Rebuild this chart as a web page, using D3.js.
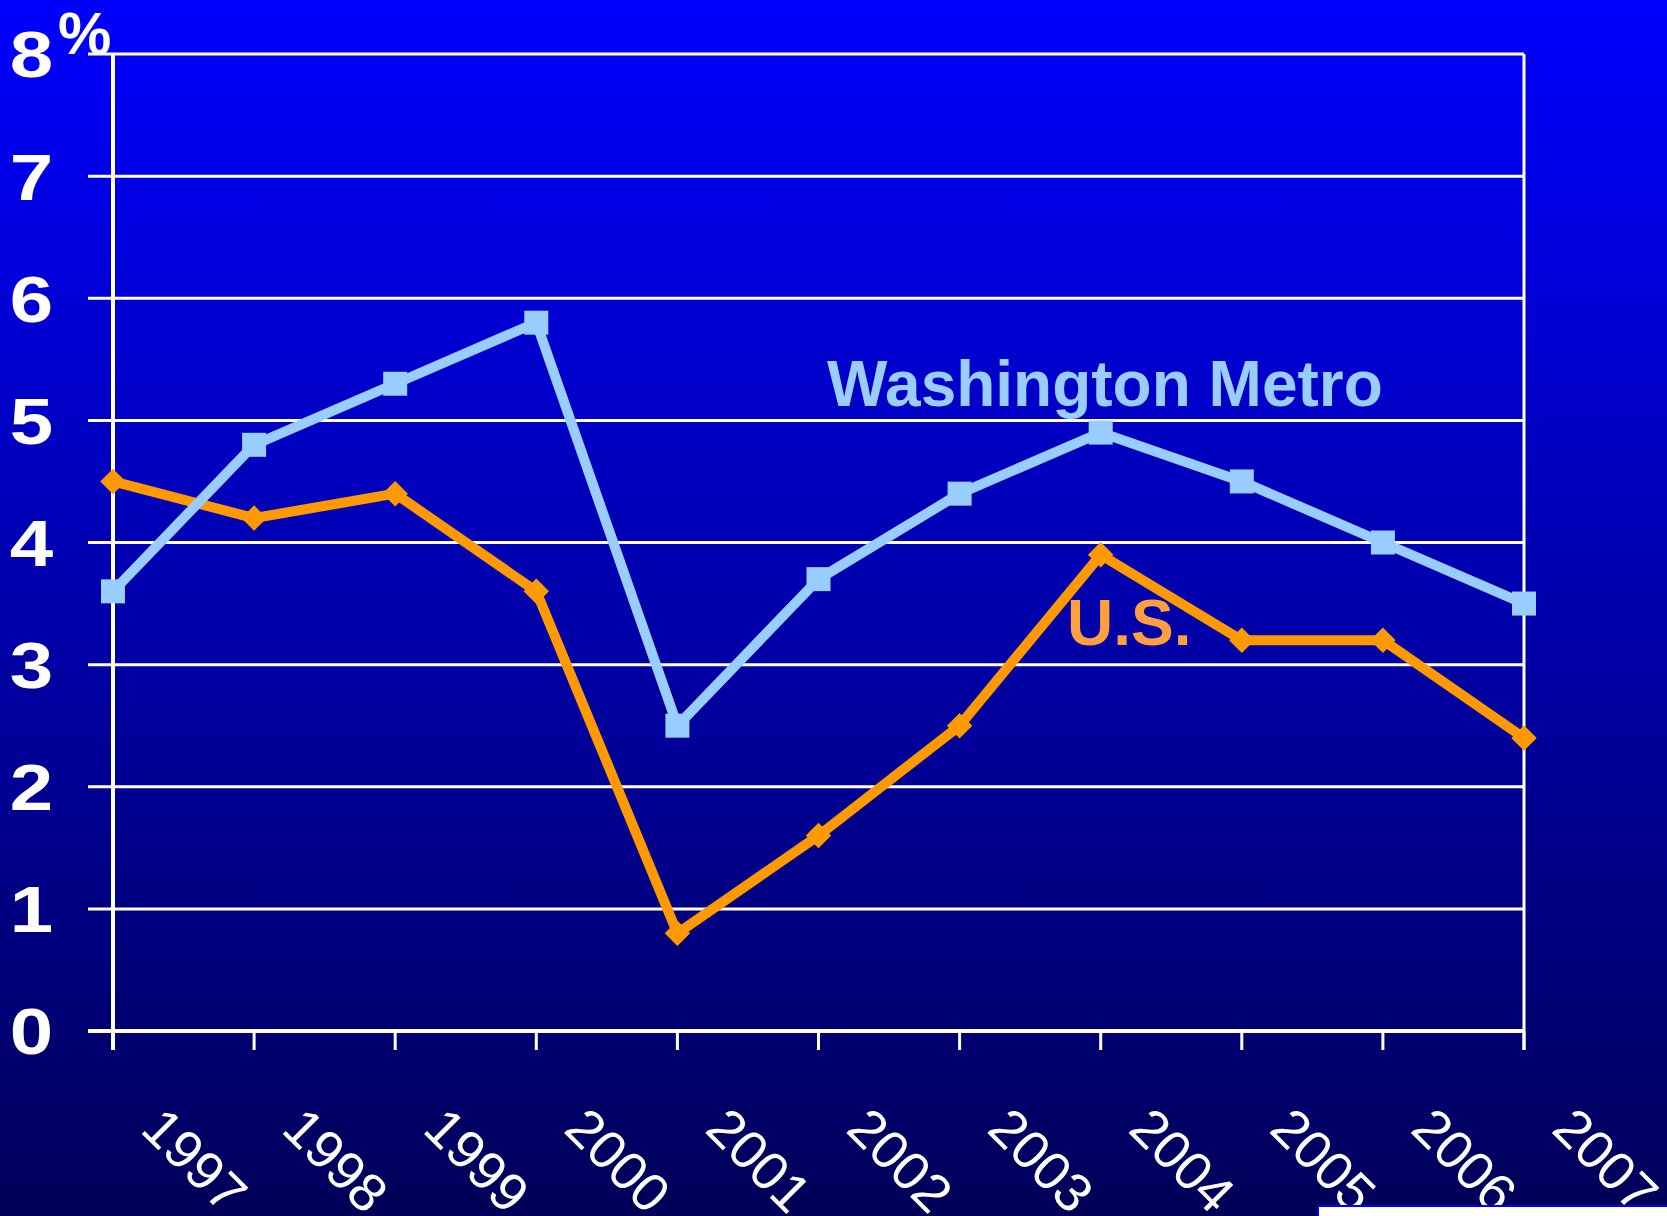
<!DOCTYPE html>
<html>
<head>
<meta charset="utf-8">
<script src="https://cdn.jsdelivr.net/npm/d3@7"></script>
<style>
  html, body { margin: 0; padding: 0; background: #000066; }
  svg { display: block; }
</style>
</head>
<body>
<div id="visual"></div>
<script>
// growth rates, percent
var years = ["1997", "1998", "1999", "2000", "2001", "2002", "2003", "2004", "2005", "2006", "2007"];
var washington = [3.6, 4.8, 5.3, 5.8, 2.5, 3.7, 4.4, 4.9, 4.5, 4.0, 3.5];
var usa = [4.5, 4.2, 4.4, 3.6, 0.8, 1.6, 2.5, 3.9, 3.2, 3.2, 2.4];
var yTicks = [0, 1, 2, 3, 4, 5, 6, 7, 8];

var width = 1667, height = 1216;
var margin = {top: 54, right: 143, bottom: 185, left: 113};

var svg = d3.select("#visual").append("svg")
    .attr("width", width)
    .attr("height", height);

var font = "'Liberation Sans', Arial, sans-serif";

/* background gradient */
var grad = svg.append("defs").append("linearGradient")
    .attr("id", "bg")
    .attr("x1", 0).attr("y1", 0).attr("x2", 0).attr("y2", 1);
grad.append("stop").attr("offset", "0%").attr("stop-color", "#0000ff");
grad.append("stop").attr("offset", "100%").attr("stop-color", "#000058");

svg.append("rect")
    .attr("width", width)
    .attr("height", height)
    .attr("fill", "url(#bg)");

var x = d3.scalePoint()
    .domain(years)
    .range([margin.left, width - margin.right])
    .padding(0);

var y = d3.scaleLinear()
    .domain([0, 8])
    .range([height - margin.bottom, margin.top]);

var x0 = margin.left, x1 = width - margin.right;

// gridlines (they stick out left as ticks)
svg.append("g").selectAll("line")
    .data(yTicks)
    .enter().append("line")
    .attr("x1", x0 - 25)
    .attr("x2", x1)
    .attr("y1", function (d) { return y(d); })
    .attr("y2", function (d) { return y(d); })
    .attr("stroke", "#fff")
    .attr("stroke-width", function (d) { return d === 0 ? 4 : 3; });

// left and right frame lines
svg.append("line")
    .attr("x1", x0).attr("x2", x0)
    .attr("y1", y(8)).attr("y2", y(0) + 19)
    .attr("stroke", "#fff").attr("stroke-width", 4);
svg.append("line")
    .attr("x1", x1).attr("x2", x1)
    .attr("y1", y(8)).attr("y2", y(0) + 19)
    .attr("stroke", "#fff").attr("stroke-width", 3);

// bottom ticks
svg.append("g").selectAll("line")
    .data(years)
    .enter().append("line")
    .attr("x1", function (d) { return x(d); })
    .attr("x2", function (d) { return x(d); })
    .attr("y1", y(0))
    .attr("y2", y(0) + 19)
    .attr("stroke", "#fff")
    .attr("stroke-width", 3);

// y tick labels (slightly wide, like the original)
svg.append("g").selectAll("text")
    .data(yTicks)
    .enter().append("text")
    .attr("transform", function (d) {
        return "translate(53," + y(d) + ") scale(1.2,1)";
    })
    .attr("dy", "0.36em")
    .attr("text-anchor", "end")
    .attr("font-family", font)
    .attr("font-weight", "bold")
    .attr("font-size", 65)
    .attr("fill", "#fff")
    .text(function (d) { return d; });

svg.append("text")
    .attr("x", 58)
    .attr("y", 54)
    .attr("font-family", font)
    .attr("font-weight", "bold")
    .attr("font-size", 60)
    .attr("fill", "#fff")
    .text("%");

// x labels, rotated
svg.append("g").selectAll("text")
    .data(years)
    .enter().append("text")
    .attr("transform", function (d) {
        return "translate(" + (x(d) + 26) + "," + 1131 + ") rotate(45)";
    })
    .attr("font-family", font)
    .attr("font-size", 54)
    .attr("fill", "#fff")
    .text(function (d) { return d; });

var line = d3.line()
    .x(function (d, i) { return x(years[i]); })
    .y(function (d) { return y(d); });

/* U.S. series */
svg.append("path")
    .datum(usa)
    .attr("d", line)
    .attr("fill", "none")
    .attr("stroke", "#ff9900")
    .attr("stroke-width", 10)
    .attr("stroke-linejoin", "round");

svg.append("g").selectAll("rect")
    .data(usa)
    .enter().append("rect")
    .attr("x", -9).attr("y", -9)
    .attr("width", 18).attr("height", 18)
    .attr("transform", function (d, i) {
        return "translate(" + x(years[i]) + "," + y(d) + ") rotate(45)";
    })
    .attr("fill", "#ff9900");

/* Washington series */
svg.append("path")
    .datum(washington)
    .attr("d", line)
    .attr("fill", "none")
    .attr("stroke", "#99ccff")
    .attr("stroke-width", 10)
    .attr("stroke-linejoin", "round");

svg.append("g").selectAll("rect")
    .data(washington)
    .enter().append("rect")
    .attr("x", function (d, i) { return x(years[i]) - 12; })
    .attr("y", function (d) { return y(d) - 12; })
    .attr("width", 24).attr("height", 24)
    .attr("fill", "#99ccff");

// series labels
svg.append("text")
    .attr("x", 827)
    .attr("y", 406)
    .attr("font-family", font)
    .attr("font-weight", "bold")
    .attr("font-size", 64)
    .attr("fill", "#99ccff")
    .text("Washington Metro");

svg.append("text")
    .attr("x", 1067)
    .attr("y", 645)
    .attr("font-family", font)
    .attr("font-weight", "bold")
    .attr("font-size", 64)
    .attr("fill", "#ff9f40")
    .text("U.S.");

// white box at the bottom right corner
svg.append("rect")
    .attr("x", 1318)
    .attr("y", 1206)
    .attr("width", 360)
    .attr("height", 20)
    .attr("fill", "#fff")
    .attr("stroke", "#0000ff")
    .attr("stroke-width", 2);
</script>
</body>
</html>
